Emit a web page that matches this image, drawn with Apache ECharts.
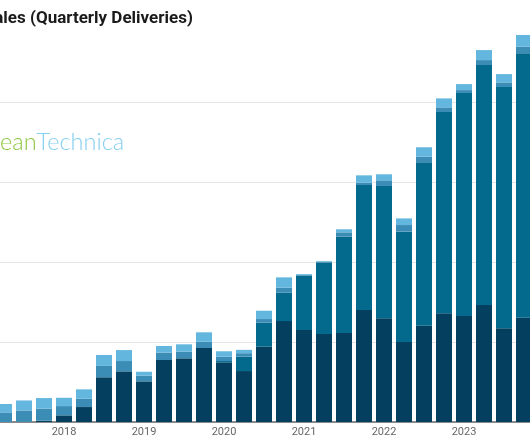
<!DOCTYPE html>
<html><head><meta charset="utf-8">
<script src="https://cdn.jsdelivr.net/npm/echarts@6/dist/echarts.min.js"></script>
<style>html,body{margin:0;padding:0;background:#fff;overflow:hidden}#c{width:530px;height:442px}</style>
</head><body><div id="c"></div>
<script>
// Quarterly categories (visible part of the chart)
const quarters = [
  '2017 Q2','2017 Q3','2017 Q4',
  '2018 Q1','2018 Q2','2018 Q3','2018 Q4',
  '2019 Q1','2019 Q2','2019 Q3','2019 Q4',
  '2020 Q1','2020 Q2','2020 Q3','2020 Q4',
  '2021 Q1','2021 Q2','2021 Q3','2021 Q4',
  '2022 Q1','2022 Q2','2022 Q3','2022 Q4',
  '2023 Q1','2023 Q2','2023 Q3','2023 Q4'
];
const yearTickLabels = ['2018','2019','2020','2021','2022','2023'];

// Stacked series (bottom to top)
const model3 = [0,220,1600, 8300,18700,55900,63300, 50800,77500,79600,92500,
  74600,63700,94100,126200, 115000,110000,111200,140000,
  129600,100000,120400,135900, 132500,146200,117100,130400];
const modelY = [0,0,0, 0,0,0,0, 0,0,0,0,
  1600,18100,30000,35400, 67800,89400,120400,156200,
  165400,137900,204200,251600, 278700,300000,301600,330500];
const modelS = [12000,14200,15000, 11600,10400,14200,12900, 7000,9200,8300,7900,
  5500,4200,4600,6200, 900,900,5500,2900,
  7100,8300,7100,5800, 3700,6200,5800,8300];
const modelX = [10500,12500,13300, 10400,11700,13700,13700, 5000,8300,9200,11700,
  6700,4200,10400,13000, 1100,1000,3800,9200,
  7500,8300,11700,11200, 7500,12500,10400,14600];

const titleText = 'Tesla Sales (Quarterly Deliveries)';
const logoLeft = 'Clean';
const logoRight = 'Technica';

function textWidth(str, font){
  const ctx = document.createElement('canvas').getContext('2d');
  ctx.font = font; return ctx.measureText(str).width;
}
const titleFont = 'bold 17px Roboto';
const titleX = 30 - textWidth('Tesla Sales ', titleFont);
const logoFont = '300 23.5px Lato';
const logoX = 0 - textWidth('Cl', logoFont);

const chart = echarts.init(document.getElementById('c'), null, {renderer:'canvas'});
const barW = 16;
function mk(name, data, color){
  return {name, type:'bar', stack:'total', data, barWidth:barW,
    itemStyle:{color}, emphasis:{disabled:true}, animation:false};
}
chart.setOption({
  animation:false,
  backgroundColor:'#ffffff',
  grid:{left:-6, right:-4, top:22, bottom:20, containLabel:false, outerBoundsMode:'none'},
  xAxis:{type:'category', data:quarters, boundaryGap:true,
    axisLine:{show:true, lineStyle:{color:'#8a8a8a', width:2}},
    axisTick:{show:false},
    axisLabel:{interval:0, color:'#666', fontSize:11, fontFamily:'Roboto', margin:5,
      formatter:v=>{const y=v.slice(0,4); return (v.endsWith('Q1') && yearTickLabels.includes(y)) ? y : '';}}
  },
  yAxis:{type:'value', min:0, max:500000, interval:100000,
    axisLabel:{show:false}, axisLine:{show:false}, axisTick:{show:false},
    splitLine:{show:true, showMaxLine:false, lineStyle:{color:'#e6e6e6', width:1}}},
  series:[
    mk('Model 3', model3, '#053f5f'),
    mk('Model Y', modelY, '#03698d'),
    mk('Model S', modelS, '#3b8db5'),
    mk('Model X', modelX, '#63b6dd')
  ],
  graphic:[
    {type:'text', left:titleX, top:10, z:10,
      style:{text:titleText, font:titleFont, fill:'#1a1a1a'}},
    {type:'text', left:logoX, top:130, z:10,
      style:{text:'{g|'+logoLeft+'}{b|'+logoRight+'}',
        rich:{g:{fill:'#8cc63f', font:logoFont}, b:{fill:'#86d0ef', font:logoFont}}}}
  ]
});
</script>
</body></html>
